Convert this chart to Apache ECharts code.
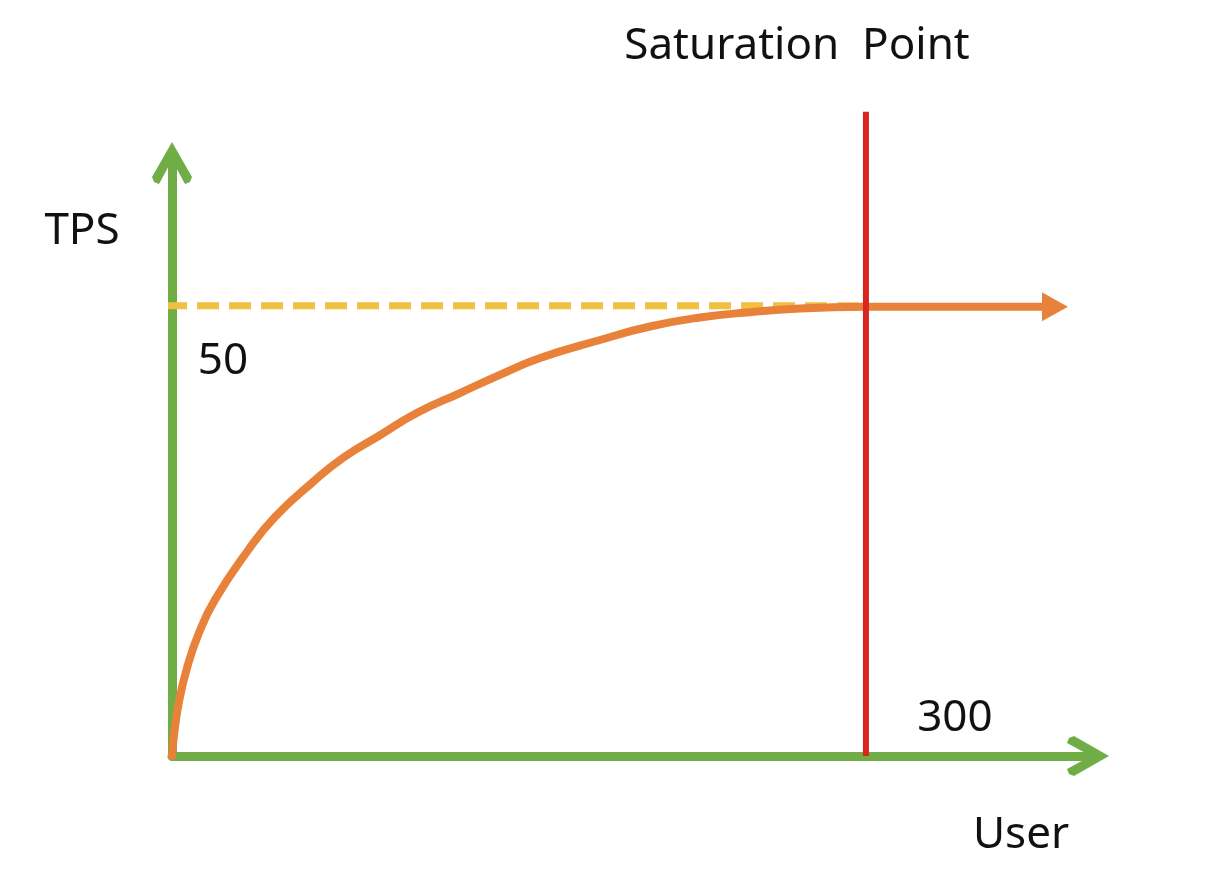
<!DOCTYPE html>
<html>
<head>
<meta charset="utf-8">
<script src="https://cdn.jsdelivr.net/npm/echarts@6/dist/echarts.min.js"></script>
<style>
html,body{margin:0;padding:0;background:#ffffff;}
#chart{width:1212px;height:880px;}
</style>
</head>
<body>
<div id="chart"></div>
<script>
// ---- data ----
const curveUsers = [0, 1.0, 3.0, 6.5, 11.5, 18.6, 32.9, 44.5, 60.5, 74.0, 89.9, 106.0, 124.5, 141.5, 159.1, 185, 206.6, 228.2, 249.9, 271.5, 300];
const curveTps   = [0, 2.6, 6.0, 9.8, 13.6, 17.4, 22.9, 26.6, 30.4, 33.2, 35.7, 38.2, 40.4, 42.4, 44.3, 46.3, 47.8, 48.8, 49.4, 49.8, 50];
const tailUsers = [300, 381.7];
const tailTps = [50, 50];
const maxTpsUsers = [-3, 300];
const maxTpsValues = [50.1, 50.1];
const saturationUsers = [300, 300];
const saturationTps = [0, 71.7];
const tpsTickLabel = '50';
const userTickLabel = '300';
const yAxisTitle = 'TPS';
const xAxisTitle = 'User';
const saturationTitle = 'Saturation  Point';

const GREEN = '#70AD47', ORANGE = '#E8823A', YELLOW = '#F0C13E', RED = '#D8261E';
const FONT = '"Noto Sans", "Open Sans", sans-serif';
const chevron = 'path://M20,0 L40,35 L38,40 L33,42 L20,18 L7,42 L2,40 L0,35 Z';
const tailArrow = 'path://M0,0 L26,14.5 L0,29 Z';

const zip = (a, b) => a.map((v, i) => [v, b[i]]);
const tailData = zip(tailUsers, tailTps).map((p, i, arr) =>
  i === arr.length - 1 ? {value: p, symbol: tailArrow, symbolSize: [26, 29]} : {value: p, symbol: 'none'});

const chart = echarts.init(document.getElementById('chart'), null, {renderer: 'canvas'});
const option = {
  backgroundColor: '#ffffff',
  animation: false,
  grid: {left: 172, right: 124, top: 163, bottom: 124, containLabel: false},
  xAxis: {
    type: 'value', min: 0, max: 396,
    axisLine: {show: true, onZero: false, symbol: ['none', chevron], symbolSize: [40, 42],
      lineStyle: {color: GREEN, width: 9, cap: 'round'}},
    axisTick: {show: false}, axisLabel: {show: false}, splitLine: {show: false}
  },
  yAxis: {
    type: 'value', min: 0, max: 66,
    axisLine: {show: true, onZero: false, symbol: ['none', chevron], symbolSize: [40, 42],
      lineStyle: {color: GREEN, width: 9, cap: 'round'}},
    axisTick: {show: false}, axisLabel: {show: false}, splitLine: {show: false}
  },
  series: [
    {
      type: 'line', data: zip(maxTpsUsers, maxTpsValues), symbol: 'none', clip: false, z: 3,
      lineStyle: {color: YELLOW, width: 7, type: [22, 10]}, silent: true
    },
    {
      type: 'line', data: zip(curveUsers, curveTps), symbol: 'none', smooth: 0.5,
      clip: false, z: 4, lineStyle: {color: ORANGE, width: 8, cap: 'round', join: 'round'}, silent: true
    },
    {
      type: 'line', data: tailData, symbol: 'none', clip: false, z: 4,
      itemStyle: {color: ORANGE}, lineStyle: {color: ORANGE, width: 8}, silent: true
    },
    {
      type: 'line', data: zip(saturationUsers, saturationTps), symbol: 'none', clip: false, z: 5,
      lineStyle: {color: RED, width: 6}, silent: true
    }
  ]
};
chart.setOption(option);

const p50 = chart.convertToPixel({gridIndex: 0}, [0, 50]);
const p300 = chart.convertToPixel({gridIndex: 0}, [300, 0]);
const txt = (text, x, y, size) => ({
  type: 'text', x: x, y: y, silent: true,
  style: {text: text, font: size + 'px ' + FONT, fill: '#111111', align: 'center', verticalAlign: 'middle'}
});
chart.setOption({
  graphic: [
    txt(tpsTickLabel, p50[0] + 51, p50[1] + 55, 44),
    txt(userTickLabel, p300[0] + 89, p300[1] - 38, 44),
    txt(yAxisTitle, 82, 231, 44),
    txt(xAxisTitle, 1021, 835, 44),
    txt(saturationTitle, 797, 46, 44)
  ]
});
</script>
</body>
</html>
